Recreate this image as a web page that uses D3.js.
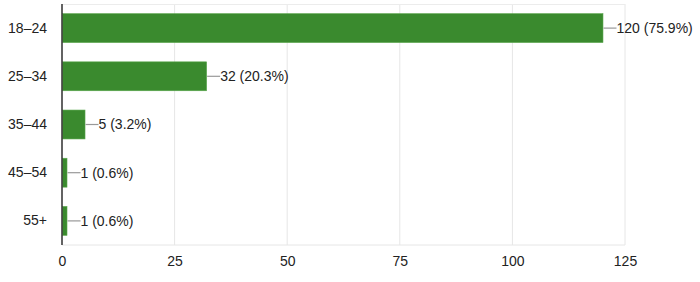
<!DOCTYPE html>
<html>
<head>
<meta charset="utf-8">
<script src="https://cdn.jsdelivr.net/npm/d3@7"></script>
<style>
  body { margin: 0; background: #fff; }
  text { font-family: "Liberation Sans", Arial, sans-serif; }
</style>
</head>
<body>
<svg id="chart"></svg>
<script>
// Data
const categories = ["18–24", "25–34", "35–44", "45–54", "55+"];
const counts = [120, 32, 5, 1, 1];
const percents = ["75.9%", "20.3%", "3.2%", "0.6%", "0.6%"];
const xTicks = [0, 25, 50, 75, 100, 125];

const data = categories.map((c, i) => ({ category: c, value: counts[i], pct: percents[i] }));

function createBarChart(data) {
  const margin = { top: 4, right: 75, bottom: 37, left: 62 };
  const width = 700 - margin.left - margin.right;
  const height = 282 - margin.top - margin.bottom;

  const svg = d3.select("#chart")
    .attr("width", 700)
    .attr("height", 282)
    .append("g")
    .attr("transform", `translate(${margin.left}, ${margin.top})`);

  const x = d3.scaleLinear()
    .domain([0, 125])
    .range([0, width]);

  const y = d3.scaleBand()
    .domain(data.map(d => d.category))
    .range([0, height])
    .paddingInner(0.4)
    .paddingOuter(0.2);

  // grid
  svg.selectAll("line.grid")
    .data(xTicks)
    .enter().append("line")
    .attr("class", "grid")
    .attr("x1", d => x(d)).attr("x2", d => x(d))
    .attr("y1", 0).attr("y2", height)
    .attr("stroke", "#e6e6e6");

  svg.append("line")
    .attr("x1", 0).attr("x2", width)
    .attr("y1", 0.5).attr("y2", 0.5)
    .attr("stroke", "#ececec");
  svg.append("line")
    .attr("x1", 0).attr("x2", width)
    .attr("y1", height).attr("y2", height)
    .attr("stroke", "#e6e6e6");

  svg.selectAll("rect.bar")
    .data(data)
    .enter().append("rect")
    .attr("class", "bar")
    .attr("x", 0.5)
    .attr("y", d => y(d.category))
    .attr("width", d => x(d.value))
    .attr("height", y.bandwidth())
    .attr("fill", "#3a8a2e")
    .attr("stroke", "#5aa64c")
    .attr("stroke-width", 0.6);

  // leader lines + labels
  svg.selectAll("line.lead")
    .data(data)
    .enter().append("line")
    .attr("class", "lead")
    .attr("x1", d => x(d.value) + 1)
    .attr("x2", d => x(d.value) + 14)
    .attr("y1", d => y(d.category) + y.bandwidth() / 2)
    .attr("y2", d => y(d.category) + y.bandwidth() / 2)
    .attr("stroke", "#999")
    .attr("stroke-width", 1.2);

  svg.selectAll("text.val")
    .data(data)
    .enter().append("text")
    .attr("class", "val")
    .attr("x", d => x(d.value) + 14)
    .attr("y", d => y(d.category) + y.bandwidth() / 2)
    .attr("dy", "0.35em")
    .attr("font-size", 14)
    .attr("fill", "#222")
    .text(d => `${d.value} (${d.pct})`);

  // y axis
  const yAxis = svg.append("g")
    .call(d3.axisLeft(y).tickSize(0).tickPadding(15));
  yAxis.select(".domain").remove();
  yAxis.selectAll("text").attr("font-size", 14).attr("fill", "#222").style("font-family", "'Liberation Sans', Arial, sans-serif");

  svg.append("line")
    .attr("x1", 0).attr("x2", 0)
    .attr("y1", 0).attr("y2", height)
    .attr("stroke", "#333")
    .attr("stroke-width", 1.5);

  // x axis
  const xAxis = svg.append("g")
    .attr("transform", `translate(0,${height})`)
    .call(d3.axisBottom(x).tickValues(xTicks).tickSize(0).tickPadding(11));
  xAxis.select(".domain").remove();
  xAxis.selectAll("text").attr("font-size", 14).attr("fill", "#222").style("font-family", "'Liberation Sans', Arial, sans-serif");
}

createBarChart(data);
</script>
</body>
</html>
